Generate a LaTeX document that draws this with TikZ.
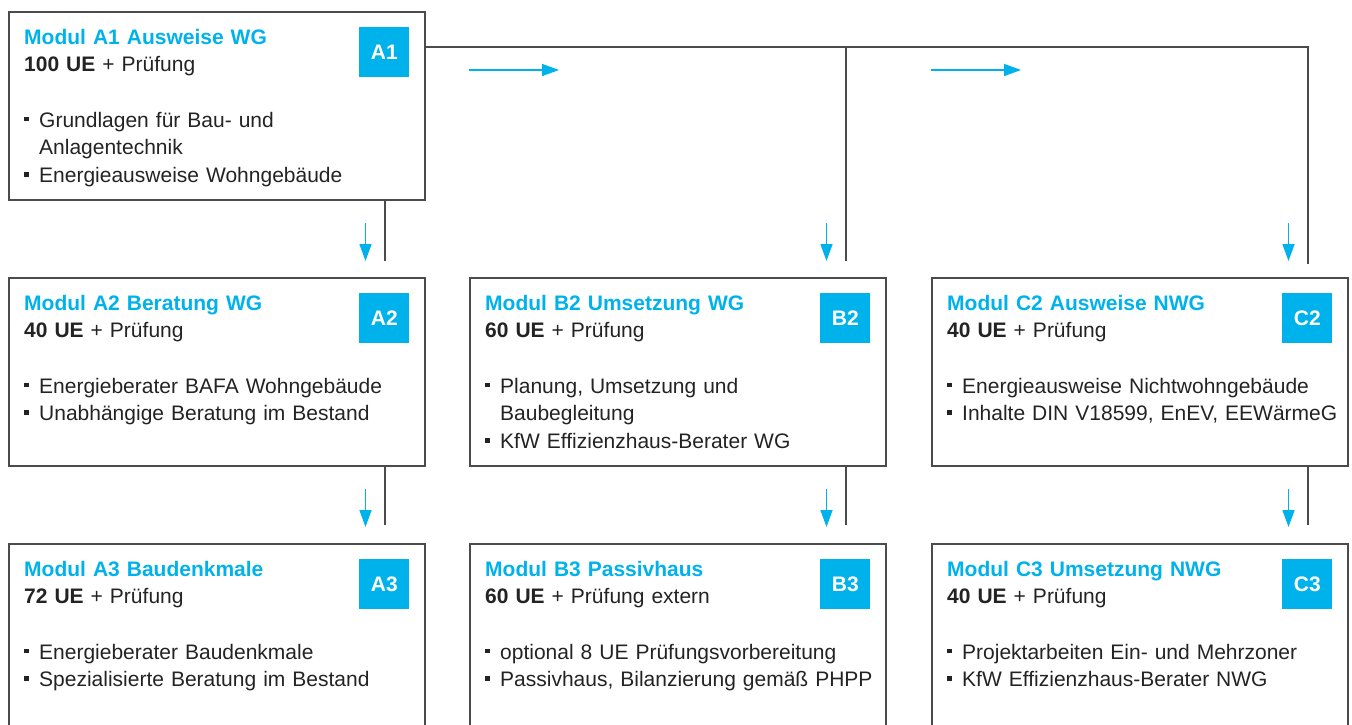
\documentclass[tikz,border=0pt]{standalone}
\usepackage{fontspec}
\setmainfont{Liberation Sans}
\usetikzlibrary{arrows.meta,calc}
\definecolor{modblue}{RGB}{0,178,235}
\definecolor{framegray}{RGB}{75,75,75}
\definecolor{textgray}{RGB}{35,35,35}
\newcommand{\itm}{\makebox[15pt][l]{\rule[6pt]{4.5pt}{4.5pt}}}
\newcommand{\cont}{\hspace*{15pt}}
\newcommand{\modhead}[2]{{\color{modblue}\bfseries #1}\\\textbf{#2}}

\begin{document}
\begin{tikzpicture}[x=1pt,y=-1pt,
  modbox/.style={draw=framegray,line width=1.5pt,minimum width=416pt,minimum height=188pt,anchor=north west,inner sep=0pt},
  tagbox/.style={fill=modblue,text=white,minimum size=50pt,inner sep=0pt,anchor=north east,font=\fontsize{21}{24}\selectfont\bfseries},
  modtext/.style={anchor=base west,text width=395pt,inner sep=0pt,align=left,text=textgray,font=\fontsize{21}{27.7}\selectfont},
  link/.style={line width=1.6pt,draw=framegray},
  flow/.style={modblue,line width=1.5pt,-{Triangle[length=17pt,width=12pt]}}]
\clip (0,0) rectangle (1352,724);
% module boxes
\node[modbox] (a1) at (8,11) {};
\node[modbox] (a2) at (8,277) {};
\node[modbox] (b2) at (469,277) {};
\node[modbox] (c2) at (931,277) {};
\node[modbox,minimum height=250pt] (a3) at (8,543) {};
\node[modbox,minimum height=250pt] (b3) at (469,543) {};
\node[modbox,minimum height=250pt] (c3) at (931,543) {};
% tags
\node[tagbox] (ta1) at ($(a1.north east)+(-16,16)$) {A1};
\node[tagbox] (ta2) at ($(a2.north east)+(-16,16)$) {A2};
\node[tagbox] (tb2) at ($(b2.north east)+(-16,16)$) {B2};
\node[tagbox] (tc2) at ($(c2.north east)+(-16,16)$) {C2};
\node[tagbox] (ta3) at ($(a3.north east)+(-16,16)$) {A3};
\node[tagbox] (tb3) at ($(b3.north east)+(-16,16)$) {B3};
\node[tagbox] (tc3) at ($(c3.north east)+(-16,16)$) {C3};
% texts
\node[modtext] (xa1) at ($(a1.north west)+(16,33)$) {\modhead{Modul A1 Ausweise WG}{100 UE} + Prüfung\\[27.7pt]
  \itm Grundlagen für Bau- und\\\cont Anlagentechnik\\\itm Energieausweise Wohngebäude};
\node[modtext] (xa2) at ($(a2.north west)+(16,33)$) {\modhead{Modul A2 Beratung WG}{40 UE} + Prüfung\\[27.7pt]
  \itm Energieberater BAFA Wohngebäude\\\itm Unabhängige Beratung im Bestand};
\node[modtext] (xb2) at ($(b2.north west)+(16,33)$) {\modhead{Modul B2 Umsetzung WG}{60 UE} + Prüfung\\[27.7pt]
  \itm Planung, Umsetzung und\\\cont Baubegleitung\\\itm KfW Effizienzhaus-Berater WG};
\node[modtext] (xc2) at ($(c2.north west)+(16,33)$) {\modhead{Modul C2 Ausweise NWG}{40 UE} + Prüfung\\[27.7pt]
  \itm Energieausweise Nichtwohngebäude\\\itm Inhalte DIN V18599, EnEV, EEWärmeG};
\node[modtext] (xa3) at ($(a3.north west)+(16,33)$) {\modhead{Modul A3 Baudenkmale}{72 UE} + Prüfung\\[27.7pt]
  \itm Energieberater Baudenkmale\\\itm Spezialisierte Beratung im Bestand};
\node[modtext] (xb3) at ($(b3.north west)+(16,33)$) {\modhead{Modul B3 Passivhaus}{60 UE} + Prüfung extern\\[27.7pt]
  \itm optional 8 UE Prüfungsvorbereitung\\\itm Passivhaus, Bilanzierung gemäß PHPP};
\node[modtext] (xc3) at ($(c3.north west)+(16,33)$) {\modhead{Modul C3 Umsetzung NWG}{40 UE} + Prüfung\\[27.7pt]
  \itm Projektarbeiten Ein- und Mehrzoner\\\itm KfW Effizienzhaus-Berater NWG};
% connector ends
\coordinate (endA) at (385,261);
\coordinate (endB) at (846,261);
\coordinate (endC) at (1308,264);
\coordinate (endA2) at (385,525);
\coordinate (endB2) at (846,525);
\coordinate (endC2) at (1308,525);
% connectors
\draw[link] ($(a1.north east)+(0,36)$) coordinate (startA) -| (endC);
\draw[link] (startA -| endB) -- (endB);
\draw[link] (a1.south -| endA) -- (endA);
\draw[link] (a2.south -| endA2) -- (endA2);
\draw[link] (b2.south -| endB2) -- (endB2);
\draw[link] (c2.south -| endC2) -- (endC2);
% blue arrows
\draw[flow] ($(b2.north west |- a1.north)+(0,59)$) -- ++(90,0);
\draw[flow] ($(c2.north west |- a1.north)+(0,59)$) -- ++(90,0);
\foreach \m in {a2,b2,c2,a3,b3,c3}
  \draw[flow] ($(\m.north east)+(-60,-54)$) -- ++(0,38);
\end{tikzpicture}
\end{document}
